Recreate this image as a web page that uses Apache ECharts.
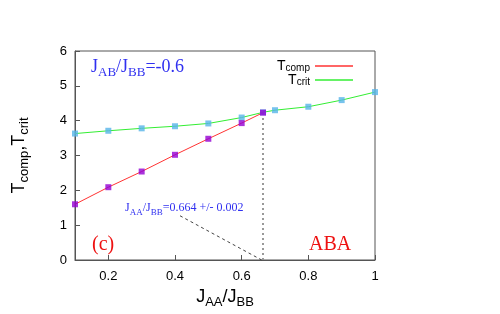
<!DOCTYPE html>
<html><head><meta charset="utf-8">
<script src="https://cdn.jsdelivr.net/npm/echarts@6/dist/echarts.min.js"></script>
<style>html,body{margin:0;padding:0;background:#fff}#c{width:500px;height:314px}</style>
</head><body><div id="c"></div>
<script>
// Data
const xCrit = [0.1, 0.2, 0.3, 0.4, 0.5, 0.6, 0.664, 0.7, 0.8, 0.9, 1.0];
const tCrit = [3.63, 3.71, 3.78, 3.84, 3.92, 4.09, 4.24, 4.30, 4.40, 4.59, 4.82];
const xComp = [0.1, 0.2, 0.3, 0.4, 0.5, 0.6, 0.664];
const tComp = [1.60, 2.09, 2.54, 3.02, 3.48, 3.93, 4.23];
const xTicks = [0.2, 0.4, 0.6, 0.8, 1.0];
const yTicks = [0, 1, 2, 3, 4, 5, 6];
const seriesNames = ['Tcomp', 'Tcrit'];
const transitionX = 0.664;
const transitionT = 4.23;
const arrowFrom = [0.415, 1.27];
const arrowTo = [0.66, 0];

const pairs = (xs, ys) => xs.map((x, i) => [x, ys[i]]);
const SANS = 'Liberation Sans';
const SERIF = 'Liberation Serif';
const sub = (size, color, font, lh) => {
  const ss = Math.round(size * 0.72);
  return {
    m: {fontSize: size, fontFamily: font, color: color, fill: color, lineHeight: lh || size + 6, verticalAlign: 'middle'},
    s: {fontSize: ss, fontFamily: font, color: color, fill: color, lineHeight: ss + 2, verticalAlign: 'bottom'}
  };
};

const chart = echarts.init(document.getElementById('c'), null, {renderer: 'canvas'});
const axisCol = '#555';
const blue = '#3030f0';
chart.setOption({
  animation: false,
  backgroundColor: '#fff',
  grid: {left: 75, right: 125, top: 51, bottom: 53, show: true, borderColor: axisCol, borderWidth: 1, backgroundColor: 'transparent'},
  legend: {
    orient: 'vertical', right: 142, top: 54, align: 'right', itemGap: 0,
    itemWidth: 38, itemHeight: 1.5, icon: 'rect',
    data: seriesNames,
    formatter: n => n === 'Tcomp' ? '{m|T}{s|comp}' : '{m|T}{s|crit}',
    textStyle: {rich: sub(14, '#000', SANS, 14), padding: [0, 0, 0, 0]}
  },
  xAxis: {
    type: 'value', min: 0.1, max: 1.0,
    name: '{m|J}{s|AA}{m|/J}{s|BB}', nameLocation: 'middle', nameGap: 25,
    nameTextStyle: {rich: sub(18, '#000', SANS)},
    axisLine: {show: true, onZero: false, lineStyle: {color: axisCol}},
    axisTick: {show: true, inside: true, length: 5, customValues: xTicks, lineStyle: {color: axisCol}},
    axisLabel: {customValues: xTicks, formatter: v => String(+v.toFixed(2)), fontFamily: SANS, fontSize: 13, color: '#000', margin: 10},
    splitLine: {show: false}
  },
  yAxis: {
    type: 'value', min: 0, max: 6, interval: 1,
    name: '{m|T}{s|comp}{m|,T}{s|crit}', nameLocation: 'middle', nameGap: 44, nameRotate: 90,
    nameTextStyle: {rich: sub(18, '#000', SANS)},
    axisLine: {show: true, lineStyle: {color: axisCol}},
    axisTick: {show: true, inside: true, length: 5, lineStyle: {color: axisCol}},
    axisLabel: {formatter: v => yTicks.includes(v) ? String(v) : '', fontFamily: SANS, fontSize: 13, color: '#000', margin: 8},
    splitLine: {show: false}
  },
  series: [
    {
      name: 'Tcrit', type: 'line', data: pairs(xCrit, tCrit), symbol: 'none',
      color: '#33ee33', lineStyle: {color: '#33ee33', width: 1}, z: 2
    },
    {
      name: 'Tcomp', type: 'line', data: pairs(xComp, tComp), symbol: 'none',
      color: '#ff3333', lineStyle: {color: '#ff3333', width: 1}, z: 3,
      markLine: {
        silent: true, symbol: 'none', label: {show: false},
        lineStyle: {color: '#999', type: [2, 3], width: 2},
        data: [[{coord: [transitionX, 0]}, {coord: [transitionX, transitionT]}]]
      }
    },
    {
      name: 'arrow', type: 'line', data: [], z: 4,
      markLine: {
        silent: true, symbol: ['none', 'arrow'], symbolSize: [0, 8], label: {show: false},
        lineStyle: {color: '#444', type: [3, 3], width: 1},
        data: [[{coord: arrowFrom}, {coord: arrowTo}]]
      }
    },
    {
      name: 'critPts', type: 'scatter', data: pairs(xCrit, tCrit), symbol: 'rect', symbolSize: 6,
      itemStyle: {color: '#56b4e9'}, z: 5
    },
    {
      name: 'compPts', type: 'scatter', data: pairs(xComp, tComp), symbol: 'rect', symbolSize: 6,
      itemStyle: {color: '#9400d3'}, z: 6
    }
  ],
  graphic: [
    {type: 'text', left: 91, top: 58, style: {text: '{m|J}{s|AB}{m|/J}{s|BB}{m|=-0.6}', rich: sub(18, blue, SERIF)}},
    {type: 'text', left: 125, top: 202, style: {text: '{m|J}{s|AA}{m|/J}{s|BB}{m|=0.664 +/- 0.002}', rich: sub(12, blue, SERIF)}},
    {type: 'text', left: 92, top: 235, style: {text: '(c)', fontFamily: SERIF, fontSize: 20, fill: '#ee1111'}},
    {type: 'text', left: 309, top: 235, style: {text: 'ABA', fontFamily: SERIF, fontSize: 20, fill: '#ee1111'}}
  ]
});
</script></body></html>
